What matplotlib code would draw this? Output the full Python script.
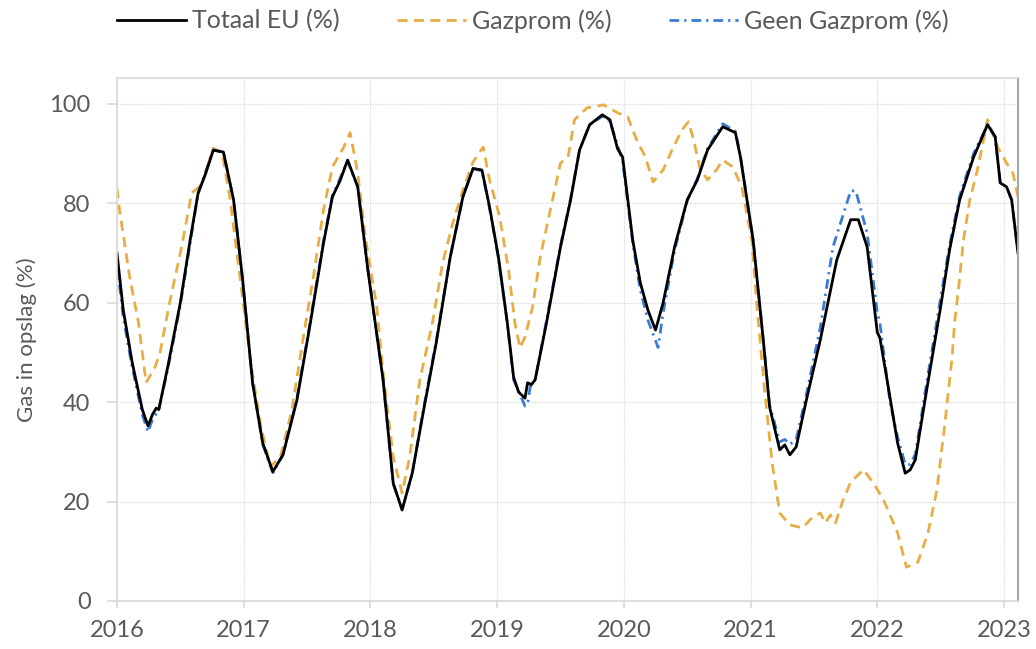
import numpy as np
import matplotlib
matplotlib.use('Agg')
import matplotlib.pyplot as plt

plt.rcParams['font.family'] = ['Lato', 'DejaVu Sans']

# Totaal EU (%)
t_eu = [2016.00, 2016.05, 2016.12, 2016.20, 2016.245, 2016.28, 2016.31, 2016.33, 2016.40, 2016.50,
        2016.58, 2016.64, 2016.70, 2016.76, 2016.84, 2016.92, 2016.99, 2017.07, 2017.15, 2017.23,
        2017.31, 2017.42, 2017.52, 2017.63, 2017.70, 2017.76, 2017.82, 2017.90, 2017.98, 2018.07,
        2018.10, 2018.18, 2018.25, 2018.33, 2018.42, 2018.52, 2018.63, 2018.73, 2018.81, 2018.88,
        2018.94, 2019.01, 2019.08, 2019.13, 2019.17, 2019.22, 2019.24, 2019.27, 2019.30, 2019.39,
        2019.50, 2019.58, 2019.65, 2019.73, 2019.83, 2019.89, 2019.95, 2019.99, 2020.07, 2020.13,
        2020.19, 2020.25, 2020.31, 2020.40, 2020.50, 2020.58, 2020.66, 2020.78, 2020.88, 2020.92,
        2021.02, 2021.10, 2021.15, 2021.23, 2021.27, 2021.31, 2021.36, 2021.44, 2021.55, 2021.68,
        2021.79, 2021.85, 2021.92, 2022.00, 2022.02, 2022.09, 2022.16, 2022.22, 2022.26, 2022.30,
        2022.39, 2022.50, 2022.57, 2022.65, 2022.76, 2022.87, 2022.93, 2022.97, 2023.02, 2023.06,
        2023.11]
v_eu = [70, 58.5, 48, 38.5, 35.2, 37.5, 38.8, 38.5, 47, 60,
        73, 82, 86, 90.7, 90.3, 80.7, 65, 43.9, 31.8, 26,
        29.4, 40.4, 55, 72, 81.3, 84.5, 88.7, 83.3, 66.6, 50,
        44.5, 23.7, 18.3, 25.7, 38.4, 52, 69.2, 81.3, 87, 86.7,
        79.3, 69.2, 56, 45, 42, 40.8, 43.9, 43.5, 44.5, 56,
        71.2, 80.7, 90.7, 95.8, 97.8, 96.8, 91, 89.3, 72.6, 64,
        58.5, 54.5, 60, 71.2, 80.7, 84.7, 90.7, 95.4, 94.2, 89.3,
        72.6, 52.5, 39, 30.4, 31.4, 29.4, 31, 40.4, 52.5, 68.6,
        76.7, 76.7, 71.2, 54, 53, 42.5, 31.8, 25.7, 26.4, 28.4,
        42.5, 59.2, 70.6, 80.7, 89.3, 95.8, 93.4, 84.1, 83.3, 80.7,
        70]

# Gazprom (%)
t_gp = [2016.00, 2016.02, 2016.10, 2016.17, 2016.23, 2016.30, 2016.34, 2016.42, 2016.51, 2016.59,
        2016.67, 2016.76, 2016.83, 2016.89, 2016.97, 2017.05, 2017.13, 2017.21, 2017.29, 2017.38,
        2017.47, 2017.55, 2017.63, 2017.70, 2017.79, 2017.84, 2017.90, 2017.96, 2018.05, 2018.10,
        2018.18, 2018.25, 2018.31, 2018.39, 2018.49, 2018.57, 2018.65, 2018.73, 2018.81, 2018.89,
        2018.94, 2019.02, 2019.09, 2019.14, 2019.18, 2019.22, 2019.28, 2019.34, 2019.42, 2019.50,
        2019.56, 2019.61, 2019.71, 2019.84, 2019.95, 2020.03, 2020.10, 2020.17, 2020.23, 2020.31,
        2020.39, 2020.46, 2020.51, 2020.55, 2020.60, 2020.66, 2020.73, 2020.78, 2020.86, 2020.93,
        2021.01, 2021.05, 2021.11, 2021.17, 2021.23, 2021.31, 2021.41, 2021.49, 2021.55, 2021.59,
        2021.63, 2021.67, 2021.73, 2021.79, 2021.89, 2021.97, 2022.05, 2022.16, 2022.23, 2022.32,
        2022.40, 2022.47, 2022.53, 2022.59, 2022.61, 2022.64, 2022.68, 2022.73, 2022.79, 2022.87,
        2022.95, 2023.02, 2023.07, 2023.11]
v_gp = [83, 78.7, 65.2, 56, 43.9, 47, 50, 60.6, 71.2, 82.1,
        83.7, 91.1, 90.1, 81.3, 65.2, 49, 35.8, 27, 29, 38.4,
        53, 65.2, 78.7, 87.3, 91.3, 94.2, 86.1, 73.2, 59.2, 45.9,
        29, 21.7, 29, 44.5, 56, 68, 76, 82.7, 88.3, 91.3,
        84.7, 77.3, 66.6, 56, 50.9, 53.1, 59.2, 69.2, 78.7, 88.1,
        89.3, 96.8, 99.2, 99.8, 98.2, 97.4, 92.8, 89.3, 84.3, 86.7,
        91.3, 94.8, 96.4, 92.8, 87.1, 84.7, 86.7, 88.7, 87.3, 83.3,
        72.6, 59.2, 42.5, 27.8, 17.7, 15.3, 14.7, 16.9, 17.7, 15.7,
        17.3, 15.7, 20.3, 23.9, 26.4, 23.7, 20.3, 13.7, 6.8, 7.8,
        13.7, 22.3, 35, 49, 56, 62.6, 72.6, 80.7, 86.7, 96.8,
        91.3, 88.1, 86.1, 81.3]

# Geen Gazprom (%)
t_ng = [2016.00, 2016.05, 2016.12, 2016.20, 2016.245, 2016.28, 2016.33, 2016.40, 2016.50, 2016.64,
        2016.76, 2016.84, 2016.92, 2016.99, 2017.07, 2017.15, 2017.23, 2017.31, 2017.42, 2017.52,
        2017.63, 2017.70, 2017.82, 2017.90, 2017.98, 2018.07, 2018.10, 2018.18, 2018.25, 2018.33,
        2018.42, 2018.52, 2018.63, 2018.73, 2018.81, 2018.88, 2018.94, 2019.01, 2019.08, 2019.13,
        2019.22, 2019.24, 2019.26, 2019.30, 2019.39, 2019.50, 2019.58, 2019.65, 2019.73, 2019.83,
        2019.89, 2019.99, 2020.07, 2020.13, 2020.19, 2020.27, 2020.31, 2020.40, 2020.50, 2020.58,
        2020.66, 2020.78, 2020.88, 2020.92, 2021.02, 2021.10, 2021.15, 2021.23, 2021.27, 2021.31,
        2021.36, 2021.44, 2021.55, 2021.65, 2021.79, 2021.83, 2021.92, 2022.00, 2022.02, 2022.10,
        2022.16, 2022.22, 2022.26, 2022.30, 2022.39, 2022.50, 2022.57, 2022.65, 2022.76, 2022.87,
        2022.93, 2022.97, 2023.02, 2023.06, 2023.11]
v_ng = [68, 57, 47, 37.5, 34, 36.5, 38.5, 46.5, 59.5, 82,
        90.7, 90.3, 80.7, 65, 43.9, 31.5, 25.8, 29.4, 40.8, 55.5,
        72.5, 81.5, 88.5, 83.3, 66.6, 50, 44.5, 23.5, 18.5, 25.7,
        38.8, 52.5, 69.2, 81.3, 87, 86.5, 79, 69, 56, 44.5,
        39.2, 39.5, 43, 44.5, 56.5, 71.5, 81, 90.7, 95.8, 97.5,
        96.5, 88.5, 72, 62.5, 56.5, 51, 58, 70.5, 80.5, 85,
        91, 96, 94.5, 89.5, 72.6, 52.5, 39.5, 32, 32.5, 31.5,
        32.5, 41.5, 55, 71.2, 82.5, 82.5, 74, 58, 56, 40,
        33, 27.5, 27.5, 29.5, 44, 61, 71.5, 81.5, 90, 95.8,
        93.4, 84.1, 83.3, 80.7, 70]

year_ticks = [2016, 2017, 2018, 2019, 2020, 2021, 2022, 2023]
y_ticks = [0, 20, 40, 60, 80, 100]

txt = '#595959'
fig = plt.figure(figsize=(10.36, 6.49), dpi=100)
ax = fig.add_axes([0.1129, 0.0740, 0.8697, 0.8058])

l2, = ax.plot(t_gp, v_gp, color='#E8AE45', lw=2.0, ls=(0, (3.6, 2.3)), label='Gazprom (%)')
l3, = ax.plot(t_ng, v_ng, color='#3A7BD5', lw=2.0, ls=(0, (3.5, 1.8, 0.8, 1.8)), label='Geen Gazprom (%)')
l1, = ax.plot(t_eu, v_eu, color='black', lw=2.0, label='Totaal EU (%)')

ax.set_xlim(2016, 2023.11)
ax.set_ylim(0, 105.2)
ax.set_xticks(year_ticks)
ax.set_xticklabels([str(y) for y in year_ticks])
ax.set_yticks(y_ticks)
ax.grid(True, color='#D9D9D9', lw=0.9, ls=(0, (1, 1)))
ax.set_axisbelow(True)

for s in ['left', 'bottom', 'top']:
    ax.spines[s].set_color('#D9D9D9')
    ax.spines[s].set_linewidth(1.2)
ax.spines['right'].set_color('#A6A6A6')
ax.spines['right'].set_linewidth(1.5)

ax.tick_params(axis='both', colors='#D9D9D9', labelcolor=txt, labelsize=17, width=1.2)
ax.tick_params(axis='y', length=7, pad=12)
ax.tick_params(axis='x', length=5, pad=9)

ax.set_ylabel('Gas in opslag (%)', color=txt, fontsize=16)
ax.yaxis.set_label_coords(-0.089, 0.5)

fig.legend(handles=[l1, l2, l3], loc='center', bbox_to_anchor=(0.5145, 0.968), ncol=3,
           frameon=False, fontsize=18, labelcolor=txt, handlelength=2.75,
           handletextpad=0.25, columnspacing=2.3)

fig.savefig('out.png', dpi=100)
